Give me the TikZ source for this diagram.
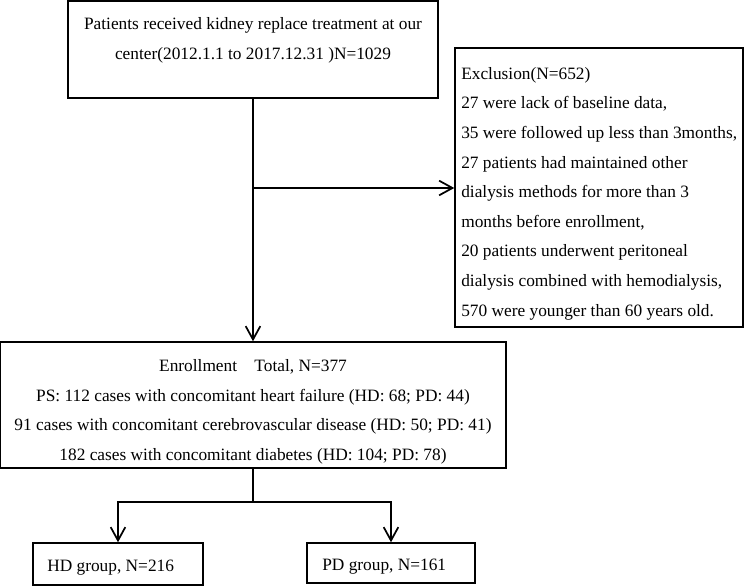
\documentclass[tikz,border=0pt]{standalone}
\usepackage{fontspec}
\setmainfont{Liberation Serif}
\usetikzlibrary{arrows.meta}

\tikzset{
  box/.style={draw, line width=1.1pt, rectangle, inner sep=0pt},
  words/.style={inner sep=0pt, align=center},
  flow/.style={draw, line width=1.5pt, -{Straight Barb[length=10pt,width=11pt,line width=1.3pt]}},
  link/.style={draw, line width=1.5pt}
}

\begin{document}
\begin{tikzpicture}[x=0.75pt, y=-0.75pt,
  font=\fontsize{13}{22.2}\selectfont]
\useasboundingbox (0,0) rectangle (744,586);

% Source population
\node[box, minimum width=277.5pt, minimum height=72.75pt] (source) at (253,49.5) {};
\node[words] (sourcetext) at (253,40.5)
{Patients received kidney replace treatment at our\\center(2012.1.1 to 2017.12.31 )N=1029};

% Exclusion
\node[box, minimum width=216pt, minimum height=209.25pt] (exclude) at (599,187.5) {};
\node[words, align=left, anchor=west] (excludetext) at (461,193.5)
{Exclusion(N=652)\\
27 were lack of baseline data,\\
35 were followed up less than 3months,\\
27 patients had maintained other\\
dialysis methods for more than 3\\
months before enrollment,\\
20 patients underwent peritoneal\\
dialysis combined with hemodialysis,\\
570 were younger than 60 years old.};

% Enrollment
\node[box, minimum width=379.5pt, minimum height=94.5pt] (enroll) at (253,405) {};
\node[words] (enrolltext) at (253,412)
{Enrollment\quad Total, N=377\\
PS: 112 cases with concomitant heart failure (HD: 68; PD: 44)\\
91 cases with concomitant cerebrovascular disease (HD: 50; PD: 41)\\
182 cases with concomitant diabetes (HD: 104; PD: 78)};

% Groups
\node[box, minimum width=127.5pt, minimum height=31.5pt] (hd) at (118,564) {};
\node[words, anchor=west] (hdtext) at (47,568) {HD group, N=216};
\node[box, minimum width=126pt, minimum height=30pt] (pd) at (391,563) {};
\node[words, anchor=west] (pdtext) at (322,567) {PD group, N=161};

% Connectors
\coordinate (branch) at (source.south |- 0,188);
\coordinate (split) at (enroll.south |- 0,502);
\draw[flow] (source.south) -- (enroll.north);
\draw[flow] (branch) -- (exclude.west |- branch);
\draw[link] (enroll.south) -- (split);
\draw[flow] (split) -| (hd.north);
\draw[flow] (split) -| (pd.north);
\end{tikzpicture}
\end{document}
